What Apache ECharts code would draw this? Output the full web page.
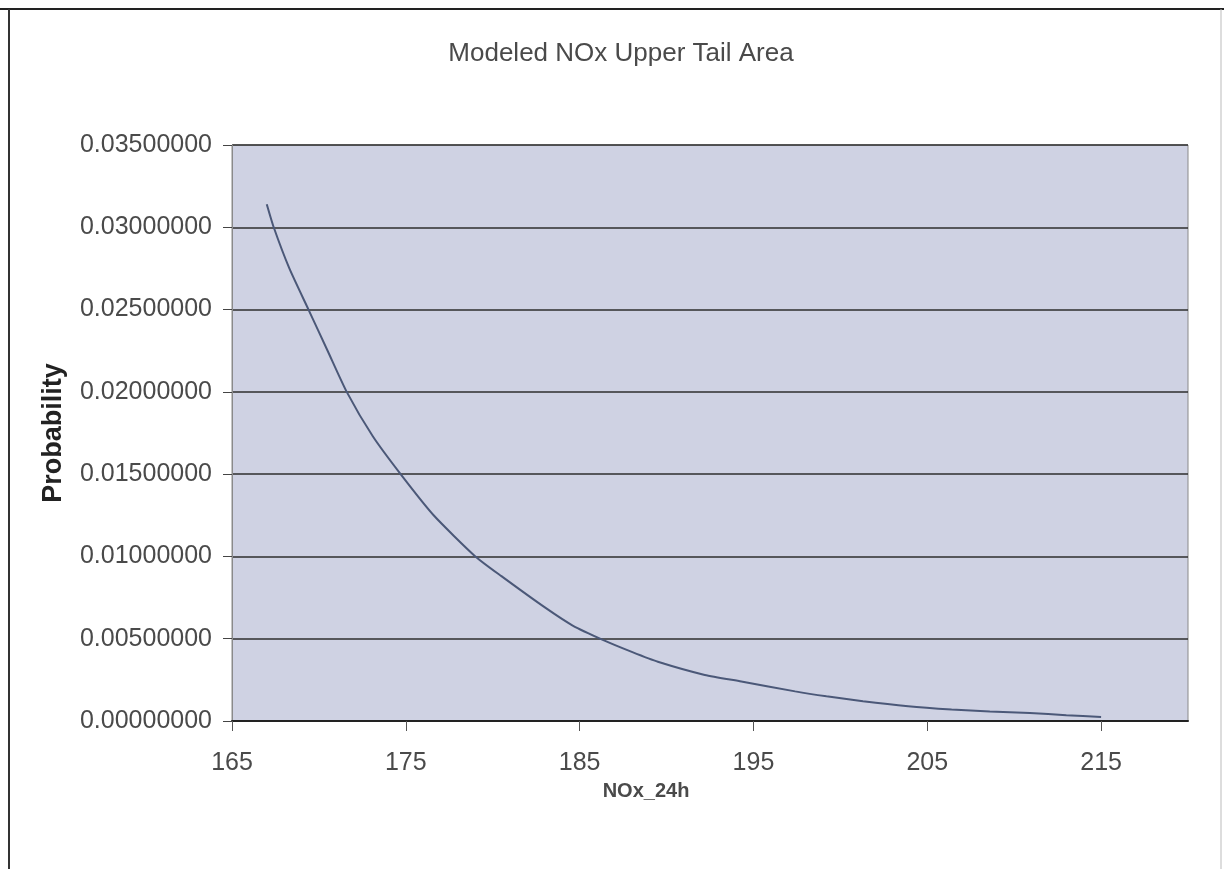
<!DOCTYPE html>
<html>
<head>
<meta charset="utf-8">
<title>Modeled NOx Upper Tail Area</title>
<script src="https://cdn.jsdelivr.net/npm/echarts@6/dist/echarts.min.js"></script>
<style>
  html, body { margin: 0; padding: 0; background: #fff; }
  #chart { width: 1224px; height: 869px; }
</style>
</head>
<body>
<div id="chart"></div>
<script>
// values
const noxValues = [167.0, 167.4, 168.3, 169.4, 170.5, 171.6, 173.1, 174.7, 176.6, 179.0,
  180.5, 183.0, 184.6, 186.4, 188.0, 189.5, 192.2, 194.3, 197.4, 199.2,
  201.3, 203.9, 206.4, 208.6, 210.9, 213.0, 215.0]
const probValues = [0.0314, 0.0300, 0.0275, 0.0250, 0.0225, 0.0200, 0.0173, 0.0150, 0.0125, 0.0100,
  0.0088, 0.0069, 0.0058, 0.0049, 0.0042, 0.0036, 0.0028, 0.0024, 0.0018, 0.0015,
  0.0012, 0.0009, 0.0007, 0.00057, 0.00049, 0.00035, 0.00025]
const xTicks = [165, 175, 185, 195, 205, 215]

const points = noxValues.map((x, i) => [x, probValues[i]])
const font = "'Liberation Sans', Arial, sans-serif"
const textColor = '#4a4a4a'

const chart = echarts.init(document.getElementById('chart'))

const option = {
  backgroundColor: '#fff',
  animation: false,
  title: {
    text: 'Modeled NOx Upper Tail Area',
    left: 616,
    textAlign: 'center',
    top: 36,
    textStyle: { fontFamily: font, fontSize: 26, fontWeight: 'normal', color: textColor },
  },
  grid: {
    left: 232,
    right: 36,
    top: 145,
    bottom: 148,
    show: true,
    backgroundColor: '#cfd2e3',
    borderColor: '#8a8a8a',
    borderWidth: 1,
  },
  graphic: [
    // page frame lines from the scan
    { type: 'line', shape: { x1: 0, y1: 9, x2: 1224, y2: 9 }, style: { stroke: '#222', lineWidth: 2 } },
    { type: 'line', shape: { x1: 9, y1: 9, x2: 9, y2: 869 }, style: { stroke: '#333', lineWidth: 2 } },
    { type: 'line', shape: { x1: 1221, y1: 9, x2: 1221, y2: 869 }, style: { stroke: '#bbb', lineWidth: 1 } },
  ],
  xAxis: {
    type: 'value',
    min: 165,
    max: 220,
    interval: 10,
    name: 'NOx_24h',
    nameLocation: 'middle',
    nameGap: 60,
    nameTextStyle: { fontFamily: font, fontSize: 20, fontWeight: 'bold', color: textColor, padding: [0, 128, 0, 0] },
    axisLine: { show: true, onZero: false, lineStyle: { color: '#222', width: 2 } },
    axisTick: { show: true, length: 10, customValues: xTicks, lineStyle: { color: '#555', width: 1 } },
    axisLabel: {
      margin: 30,
      fontFamily: font,
      fontSize: 25,
      color: textColor,
      customValues: xTicks,
    },
    splitLine: { show: false },
  },
  yAxis: {
    type: 'value',
    min: 0,
    max: 0.035,
    interval: 0.005,
    name: 'Probability',
    nameLocation: 'middle',
    nameGap: 165,
    nameTextStyle: { fontFamily: font, fontSize: 27, fontWeight: 'bold', color: '#222' },
    axisLine: { show: true, lineStyle: { color: '#8a8a8a', width: 1 } },
    axisTick: { show: true, length: 9, lineStyle: { color: '#444', width: 1 } },
    axisLabel: {
      margin: 20,
      fontFamily: font,
      fontSize: 25,
      color: textColor,
      formatter: v => v.toFixed(8),
    },
    splitLine: { show: true, lineStyle: { color: '#2e2e2e', width: 1.5 } },
  },
  series: [
    {
      type: 'line',
      data: points,
      showSymbol: false,
      smooth: 0.2,
      lineStyle: { color: '#4b5878', width: 2 },
    },
  ],
}

chart.setOption(option)
</script>
</body>
</html>
